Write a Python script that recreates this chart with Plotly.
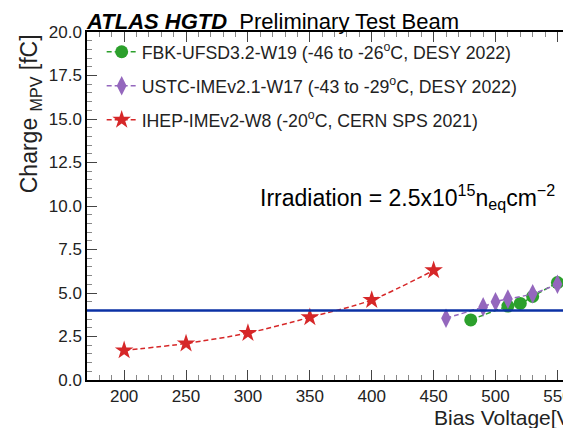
import plotly.graph_objects as go

# ---- data ----
fbk_v = [480, 510, 520, 530, 550]
fbk_q = [3.45, 4.25, 4.4, 4.8, 5.6]
ustc_v = [460, 490, 500, 510, 530, 550]
ustc_q = [3.55, 4.2, 4.5, 4.65, 4.95, 5.5]
ihep_v = [200, 250, 300, 350, 400, 450]
ihep_q = [1.7, 2.1, 2.7, 3.6, 4.6, 6.3]
threshold = 4.0
x_ticks = [200, 250, 300, 350, 400, 450, 500, 550]
y_ticks = [0, 2.5, 5, 7.5, 10, 12.5, 15, 17.5, 20]

FONT = "Liberation Sans, Arial, Helvetica, sans-serif"
GREEN = "#2ca02c"
PURPLE = "#9467bd"
RED = "#d62728"
BLUE = "#0b31a5"

fig = go.Figure()

fig.add_trace(go.Scatter(
    x=fbk_v, y=fbk_q, mode="lines+markers",
    name="FBK-UFSD3.2-W19 (-46 to -26<sup>o</sup>C, DESY 2022)",
    line=dict(color=GREEN, width=1.5, dash="5px,3px", shape="spline", smoothing=0.6),
    marker=dict(symbol="circle", size=13, color=GREEN),
    legendgroup="a"))
fig.add_trace(go.Scatter(
    x=ustc_v, y=ustc_q, mode="lines+markers",
    name="USTC-IMEv2.1-W17 (-43 to -29<sup>o</sup>C, DESY 2022)",
    line=dict(color=PURPLE, width=1.5, dash="5px,3px", shape="spline", smoothing=0.6),
    marker=dict(symbol="diamond-tall", size=14, color=PURPLE),
    legendgroup="b"))
fig.add_trace(go.Scatter(
    x=ihep_v, y=ihep_q, mode="lines+markers",
    name="IHEP-IMEv2-W8 (-20<sup>o</sup>C, CERN SPS 2021)",
    line=dict(color=RED, width=1.5, dash="5px,3px", shape="spline", smoothing=0.8),
    marker=dict(symbol="star", size=14, color=RED),
    legendgroup="c"))

fig.add_hline(y=threshold, line=dict(color=BLUE, width=2.5))

axis_common = dict(
    showline=True, linecolor="black", linewidth=1.5, mirror="ticks",
    ticks="inside", ticklen=10, tickcolor="#444", tickwidth=1,
    showgrid=False, zeroline=False,
    tickfont=dict(family=FONT, size=17, color="#222"),
)

fig.update_xaxes(range=[170, 565], tickvals=x_ticks,
                 minor=dict(dtick=10, ticks="inside", ticklen=5, tickcolor="#888", tickwidth=1),
                 **axis_common)
fig.update_yaxes(range=[0, 20], tickvals=y_ticks, tickformat=".1f",
                 minor=dict(dtick=0.5, ticks="inside", ticklen=5, tickcolor="#888", tickwidth=1),
                 **axis_common)

fig.add_annotation(xref="paper", yref="paper", x=-0.006, y=1.0, xanchor="left", yanchor="middle",
                   yshift=11,
                   text="<b><i>ATLAS HGTD</i></b>  Preliminary Test Beam",
                   showarrow=False, font=dict(family=FONT, size=22, color="black"))
fig.add_annotation(xref="paper", yref="paper", x=0.962, y=0.525, xanchor="right", yanchor="middle",
                   text="Irradiation = 2.5x10<sup>15</sup>n<sub>eq</sub>cm<sup>−2</sup>",
                   showarrow=False, font=dict(family=FONT, size=23, color="black"))
fig.add_annotation(xref="paper", yref="paper", x=1.004, y=0, xanchor="right", yanchor="top",
                   yshift=-24,
                   text="Bias Voltage[V]",
                   showarrow=False, font=dict(family=FONT, size=21, color="#222"))
fig.add_annotation(xref="paper", yref="paper", x=-0.115, y=1.0, xanchor="center", yanchor="top",
                   textangle=-90,
                   text="Charge <sub>MPV</sub> [fC]",
                   showarrow=False, font=dict(family=FONT, size=23, color="#222"))

fig.update_layout(
    width=571, height=428,
    margin=dict(l=79, r=1, t=24, b=56),
    paper_bgcolor="white", plot_bgcolor="white",
    showlegend=True,
    legend=dict(x=0.03, y=0.995, xanchor="left", yanchor="top",
                bgcolor="rgba(0,0,0,0)", traceorder="grouped", tracegroupgap=8,
                font=dict(family=FONT, size=17.7, color="#222")),
)

fig.write_html("out.html")
